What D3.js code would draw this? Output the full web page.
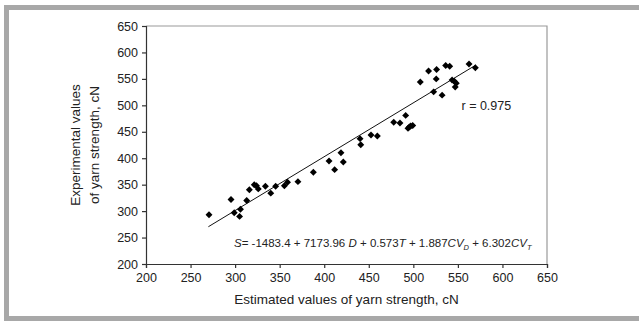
<!DOCTYPE html>
<html><head><meta charset="utf-8">
<script src="https://cdn.jsdelivr.net/npm/d3@7"></script>
<style>
html,body{margin:0;padding:0;background:#fff;}
svg{display:block;font-family:"Liberation Sans",Arial,sans-serif;}
</style></head>
<body>
<svg id="chart" width="639" height="322"></svg>
<script>
const estimated = [270.7,295.4,299,306,305,313,316,321.5,324,326,334,340,345.5,355.3,358.8,370.5,387.8,405.4,411.7,418.8,421.4,440.2,441,452.5,459.6,478,485,491.4,494,497,499.3,495.5,507.8,517.1,526.1,525.7,522.8,532.3,536.3,540.8,543.5,546,548.2,547,562.5,569.6];
const experimental = [293,322,297,303.5,290,320,340.5,350,348,342,347,334,347,348,354.5,355.7,373.4,394.8,378.4,410.5,392.9,437,425.6,443.8,442,468,466.6,481,456.5,461,462,459,544,565,567.6,550,525.5,519.3,575.2,574,548,545.4,541.6,534.5,578.3,571];
const fitX = [270, 570];
const fitY = [270.5, 576];
const xTicks = [200,250,300,350,400,450,500,550,600,650];
const yTicks = [200,250,300,350,400,450,500,550,600,650];

const svg = d3.select("#chart");
// outer frame
svg.append("rect").attr("x",4).attr("y",5).attr("width",640).attr("height",5).attr("fill","#a8a8a8");
svg.append("rect").attr("x",4).attr("y",5).attr("width",5).attr("height",316).attr("fill","#a8a8a8");
svg.append("rect").attr("x",4).attr("y",316).attr("width",640).attr("height",5).attr("fill","#a8a8a8");

const L=146, R=547, T=26, B=264;
const x = d3.scaleLinear().domain([200,650]).range([L,R]);
const y = d3.scaleLinear().domain([200,650]).range([B,T]);

// plot border top/right
svg.append("path").attr("d",`M${L},${T}H${R}V${B}`).attr("fill","none").attr("stroke","#9a9a9a").attr("stroke-width",1.2);

const xa = svg.append("g").attr("transform",`translate(0,${B})`)
  .call(d3.axisBottom(x).tickValues(xTicks).tickSize(4).tickPadding(5).tickFormat(d3.format("d")));
const ya = svg.append("g").attr("transform",`translate(${L},0)`)
  .call(d3.axisLeft(y).tickValues(yTicks).tickSize(4).tickPadding(4).tickFormat(d3.format("d")));
[xa,ya].forEach(a=>{
  a.selectAll("path,line").attr("stroke","#333").attr("stroke-width",1.2);
  a.selectAll("text").attr("font-size","12.5px").attr("fill","#222").attr("font-family","Liberation Sans, Arial, sans-serif");
});

// fit line
svg.append("line").attr("x1",x(fitX[0])).attr("y1",y(fitY[0])).attr("x2",x(fitX[1])).attr("y2",y(fitY[1]))
  .attr("stroke","#111").attr("stroke-width",1);

// points
const sym = d3.symbol().type(d3.symbolSquare).size(24);
svg.append("g").selectAll("path").data(estimated.map((e,i)=>[e,experimental[i]])).join("path")
  .attr("d",sym).attr("fill","#000")
  .attr("transform",d=>`translate(${x(d[0])},${y(d[1])}) rotate(45)`);

// annotations
svg.append("text").attr("x",461.5).attr("y",110).attr("font-size","12.5px").attr("fill","#222").text("r = 0.975");
const eq = svg.append("text").attr("x",234).attr("y",247).attr("font-size","11.5px").attr("fill","#222");
const parts = [["S",1],["= -1483.4 + 7173.96 ",0],["D",1],[" + 0.573",0],["T",1],[" + 1.887",0],["CV",1],["D",2],[" + 6.302",0],["CV",1],["T",2]];
parts.forEach((p,i)=>{
  const t = eq.append("tspan").text(p[0]);
  if(p[1]>=1) t.attr("font-style","italic");
  if(p[1]===2) t.attr("font-size","7.5px").attr("dy",3);
  else if(i>0 && parts[i-1][1]===2) t.attr("dy",-3);
});

// axis titles
svg.append("text").attr("x",(L+R)/2).attr("y",304).attr("text-anchor","middle").attr("font-size","13.5px").attr("fill","#222")
  .text("Estimated values of yarn strength, cN");
const yt = svg.append("text").attr("transform",`translate(80,${(T+B)/2}) rotate(-90)`).attr("text-anchor","middle").attr("font-size","13.5px").attr("fill","#222");
yt.append("tspan").attr("x",0).attr("y",0).text("Experimental values");
yt.append("tspan").attr("x",0).attr("y",19).text("of yarn strength, cN");
</script>
</body></html>
